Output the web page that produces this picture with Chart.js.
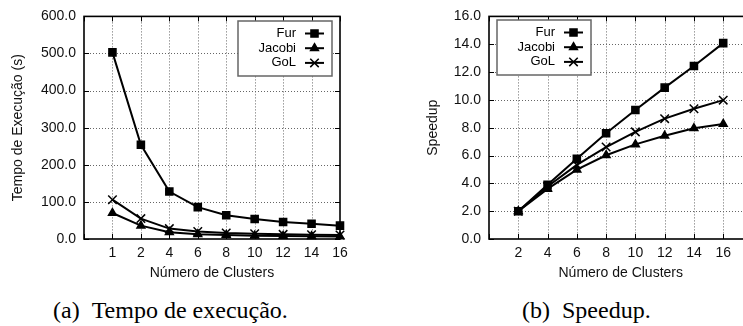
<!DOCTYPE html>
<html>
<head>
<meta charset="utf-8">
<script src="https://cdn.jsdelivr.net/npm/chart.js@4"></script>
<style>
    body { margin: 0; width: 743px; height: 326px; overflow: hidden; background: #fff; position: relative; }
    .plot { position: absolute; top: 0; }
    .caption { position: absolute; top: 298px; font-family: "Liberation Serif", serif; font-size: 24px; line-height: 24px; white-space: pre; color: #000; }
</style>
</head>
<body>
<div class="plot" style="left:0px"><canvas id="tempoChart" width="360" height="290"></canvas></div>
<div class="plot" style="left:380px"><canvas id="speedupChart" width="380" height="290"></canvas></div>
<div class="caption" style="left:53px">(a)&#8194;Tempo de execução.</div>
<div class="caption" style="left:522px">(b)&#8194;Speedup.</div>

<script>
// valores
const clustersTempo = ['1', '2', '4', '6', '8', '10', '12', '14', '16'];
const tempoFur = [503, 254, 128, 86, 64, 54, 46, 41, 36];
const tempoJacobi = [70, 36, 18, 13, 11, 9, 8, 7.5, 6.5];
const tempoGol = [106, 55, 28, 20, 16, 14, 12.5, 11.6, 10.7];

const clustersSpeedup = ['2', '4', '6', '8', '10', '12', '14', '16'];
const speedupFur = [2.0, 3.9, 5.76, 7.6, 9.27, 10.88, 12.44, 14.08];
const speedupJacobi = [2.0, 3.6, 4.98, 6.02, 6.8, 7.42, 7.96, 8.27];
const speedupGol = [2.0, 3.77, 5.33, 6.61, 7.7, 8.65, 9.36, 9.98];

const FONT = 'Liberation Sans';

function toPoints(values) {
    return values.map((v, i) => ({ x: i + 1, y: v }));
}

function serie(label, values, pointStyle, radius) {
    return {
        label: label,
        data: toPoints(values),
        borderColor: '#000',
        backgroundColor: '#000',
        borderWidth: 2,
        pointStyle: pointStyle,
        pointRadius: radius,
        pointBorderWidth: 1.5,
        pointBackgroundColor: '#000',
        pointBorderColor: '#000',
        tension: 0,
        clip: false
    };
}

function drawMarker(ctx, style, radius, x, y) {
    ctx.beginPath();
    if (style === 'rect') {
        const s = radius * Math.SQRT1_2;
        ctx.rect(x - s, y - s, 2 * s, 2 * s);
        ctx.fill();
        ctx.stroke();
    } else if (style === 'triangle') {
        ctx.moveTo(x, y - radius);
        ctx.lineTo(x + radius * 0.866, y + radius * 0.5);
        ctx.lineTo(x - radius * 0.866, y + radius * 0.5);
        ctx.closePath();
        ctx.fill();
        ctx.stroke();
    } else {
        const s = radius * Math.SQRT1_2;
        ctx.moveTo(x - s, y - s);
        ctx.lineTo(x + s, y + s);
        ctx.moveTo(x + s, y - s);
        ctx.lineTo(x - s, y + s);
        ctx.stroke();
    }
}

// grade pontilhada, moldura preta e marcas internas (estilo gnuplot)
const framePlugin = {
    id: 'frame',
    beforeDatasetsDraw(chart) {
        const { ctx, chartArea: a, scales } = chart;
        const xs = scales.x.ticks.map(t => Math.round(scales.x.getPixelForValue(t.value)) + 0.5);
        const ys = scales.y.ticks.map(t => Math.round(scales.y.getPixelForValue(t.value)) + 0.5);
        ctx.save();

        ctx.strokeStyle = '#666';
        ctx.lineWidth = 1;
        ctx.setLineDash([1, 2]);
        ctx.beginPath();
        xs.forEach(px => {
            if (px > a.left + 2 && px < a.right - 2) {
                ctx.moveTo(px, a.top);
                ctx.lineTo(px, a.bottom);
            }
        });
        ys.forEach(py => {
            if (py > a.top + 2 && py < a.bottom - 2) {
                ctx.moveTo(a.left, py);
                ctx.lineTo(a.right, py);
            }
        });
        ctx.stroke();
        ctx.setLineDash([]);

        ctx.strokeStyle = '#000';
        ctx.beginPath();
        xs.forEach(px => {
            ctx.moveTo(px, a.bottom);
            ctx.lineTo(px, a.bottom - 5);
            ctx.moveTo(px, a.top);
            ctx.lineTo(px, a.top + 5);
        });
        ys.forEach(py => {
            ctx.moveTo(a.left, py);
            ctx.lineTo(a.left + 5, py);
            ctx.moveTo(a.right, py);
            ctx.lineTo(a.right - 5, py);
        });
        ctx.stroke();
        ctx.lineWidth = 1.6;
        ctx.strokeRect(a.left, a.top, a.right - a.left, a.bottom - a.top);
        ctx.restore();
    }
};

// legenda em caixa: texto alinhado à direita e amostra de linha
const boxLegendPlugin = {
    id: 'boxLegend',
    afterDatasetsDraw(chart, args, opts) {
        const ctx = chart.ctx;
        const x0 = opts.left, y0 = opts.top;
        ctx.save();
        ctx.fillStyle = '#fff';
        ctx.fillRect(x0, y0, 94, 55);
        ctx.strokeStyle = '#666';
        ctx.lineWidth = 1.5;
        ctx.strokeRect(x0, y0, 94, 55);
        ctx.font = '13px "' + FONT + '"';
        ctx.textAlign = 'right';
        ctx.textBaseline = 'middle';
        chart.data.datasets.forEach((ds, i) => {
            const y = y0 + 12.5 + i * 14.7;
            ctx.fillStyle = '#000';
            ctx.fillText(ds.label, x0 + 58, y);
            ctx.strokeStyle = '#000';
            ctx.lineWidth = 2;
            ctx.beginPath();
            ctx.moveTo(x0 + 67, y);
            ctx.lineTo(x0 + 86, y);
            ctx.stroke();
            ctx.lineWidth = 1.5;
            drawMarker(ctx, ds.pointStyle, ds.pointRadius, x0 + 76.5, y);
        });
        ctx.restore();
    }
};

function buildConfig(datasets, labels, yMax, yStep, yTitle, yWidth, yTitlePad, padding, legendPos) {
    const font = { family: FONT, size: 14 };
    return {
        type: 'line',
        data: { datasets: datasets },
        options: {
            responsive: false,
            animation: false,
            events: [],
            layout: { padding: padding },
            plugins: {
                legend: { display: false },
                tooltip: { enabled: false },
                boxLegend: legendPos
            },
            scales: {
                x: {
                    type: 'linear',
                    min: 0,
                    max: 9,
                    afterFit: scale => { scale.height = 51; },
                    grid: { display: false, drawTicks: false },
                    border: { display: false },
                    ticks: {
                        stepSize: 1,
                        autoSkip: false,
                        maxRotation: 0,
                        padding: 6,
                        color: '#111',
                        font: font,
                        callback: v => labels[v - 1] || ''
                    },
                    title: { display: true, text: 'Número de Clusters', color: '#111', font: font, padding: { top: 0, bottom: 8 } }
                },
                y: {
                    min: 0,
                    max: yMax,
                    afterFit: scale => { scale.width = yWidth; },
                    grid: { display: false, drawTicks: false },
                    border: { display: false },
                    ticks: {
                        stepSize: yStep,
                        padding: 8,
                        color: '#111',
                        font: font,
                        callback: v => v.toFixed(1)
                    },
                    title: { display: true, text: yTitle, color: '#111', font: font, padding: { top: yTitlePad, bottom: 0 } }
                }
            }
        },
        plugins: [framePlugin, boxLegendPlugin]
    };
}

document.addEventListener('DOMContentLoaded', () => {
    const tempoSets = [
        serie('Fur', tempoFur, 'rect', 5),
        serie('Jacobi', tempoJacobi, 'triangle', 4.5),
        serie('GoL', tempoGol, 'crossRot', 6)
    ];
    const speedupSets = [
        serie('Fur', speedupFur, 'rect', 5),
        serie('Jacobi', speedupJacobi, 'triangle', 4.5),
        serie('GoL', speedupGol, 'crossRot', 6)
    ];

    new Chart(document.getElementById('tempoChart'), buildConfig(
        tempoSets, clustersTempo, 600, 100, 'Tempo de Execução (s)', 84, 10,
        { left: 0, top: 15, right: 20, bottom: 0 },
        { left: 238, top: 21 }
    ));

    new Chart(document.getElementById('speedupChart'), buildConfig(
        speedupSets, clustersSpeedup, 16, 2, 'Speedup', 109, 45,
        { left: 0, top: 14, right: 7, bottom: 0 },
        { left: 117, top: 20 }
    ));
});
</script>
</body>
</html>
